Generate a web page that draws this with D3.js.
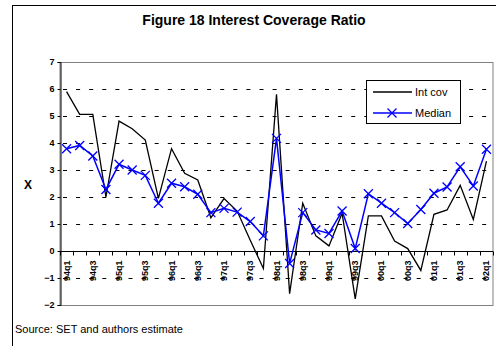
<!DOCTYPE html>
<html>
<head>
<meta charset="utf-8">
<script src="https://cdn.jsdelivr.net/npm/d3@7"></script>
<style>
  body { margin: 0; background: #fff; }
  svg { display: block; font-family: "Liberation Sans", Arial, sans-serif; }
</style>
</head>
<body>
<div id="chart"></div>
<script>
// quarters 94q1 .. 02q1
var quarters = []
for (var yr = 94; yr <= 102; yr++) {
    for (var q = 1; q <= 4; q++) {
        if (yr == 102 && q > 1) break
        quarters.push(String(yr % 100).padStart(2, "0") + "q" + q)
    }
}

var intCov = [5.9, 5.06, 5.06, 2.0, 4.81, 4.53, 4.11, 1.95,
              3.79, 2.88, 2.63, 1.23, 1.94, 1.48, 0.4, -0.65,
              5.8, -1.58, 1.77, 0.56, 0.19, 1.4, -1.77, 1.3,
              1.3, 0.37, 0.09, -0.72, 1.36, 1.52, 2.43, 1.17, 3.33]

var median = [3.79, 3.91, 3.52, 2.28, 3.21, 3.0, 2.8, 1.77,
              2.51, 2.38, 2.1, 1.42, 1.58, 1.44, 1.09, 0.56,
              4.17, -0.46, 1.42, 0.78, 0.65, 1.48, 0.09, 2.12,
              1.77, 1.42, 1.02, 1.54, 2.14, 2.37, 3.12, 2.41, 3.77]

var yTicks = [-2, -1, 0, 1, 2, 3, 4, 5, 6, 7]
var gridVals = [-1, 1, 2, 3, 4, 5, 6]

var width = 496, height = 346
var plotL = 60, plotR = 493, plotT = 62, plotB = 305

var svg = d3.select("#chart").append("svg")
    .attr("width", width)
    .attr("height", height)

// outer frame
svg.append("rect")
    .attr("x", 12.5).attr("y", 5.5)
    .attr("width", 500).attr("height", 400)
    .attr("fill", "none").attr("stroke", "black")

svg.append("text")
    .attr("x", 254).attr("y", 25)
    .attr("text-anchor", "middle")
    .attr("font-size", 14).attr("font-weight", "bold")
    .text("Figure 18 Interest Coverage Ratio")

var x = d3.scaleBand().domain(quarters).range([plotL, plotR])
var y = d3.scaleLinear().domain([-2, 7]).range([plotB, plotT])

// plot border (grey)
svg.append("rect")
    .attr("x", plotL).attr("y", plotT + 0.5)
    .attr("width", plotR - plotL).attr("height", plotB - plotT)
    .attr("fill", "none").attr("stroke", "#808080")

// dashed gridlines
svg.selectAll(".grid").data(gridVals).enter()
    .append("line")
    .attr("x1", plotL + 3).attr("x2", plotR)
    .attr("y1", function(d) { return Math.round(y(d)) + 0.5 })
    .attr("y2", function(d) { return Math.round(y(d)) + 0.5 })
    .attr("stroke", "black")
    .attr("stroke-dasharray", "4,9.1")

// y axis
var yAxis = d3.axisLeft(y).tickValues(yTicks).tickSize(3).tickPadding(3)
var gy = svg.append("g").attr("transform", "translate(" + (plotL + 0.5) + ",0)").call(yAxis)
gy.select(".domain").attr("stroke", "black")
gy.selectAll("text").attr("font-size", 9).attr("font-weight", "bold")
    .attr("font-family", "Liberation Sans, Arial, sans-serif")

svg.append("text")
    .attr("x", 28).attr("y", 189)
    .attr("text-anchor", "middle")
    .attr("font-size", 12).attr("font-weight", "bold")
    .text("X")

// x axis at zero
var y0 = Math.round(y(0)) + 0.5
svg.append("line")
    .attr("x1", plotL).attr("x2", plotR)
    .attr("y1", y0).attr("y2", y0)
    .attr("stroke", "black")

var boundaries = quarters.map(function(d) { return x(d) }).concat([plotR])
svg.selectAll(".xtick").data(boundaries).enter()
    .append("line")
    .attr("x1", function(d) { return Math.round(d) + 0.5 })
    .attr("x2", function(d) { return Math.round(d) + 0.5 })
    .attr("y1", y0).attr("y2", y0 + 4)
    .attr("stroke", "black")

svg.selectAll(".xlab").data(quarters.filter(function(d, i) { return i % 2 == 0 })).enter()
    .append("text")
    .attr("transform", function(d) {
        return "translate(" + (x(d) + x.bandwidth() / 2 + 3) + "," + (y0 + 9) + ") rotate(-90)"
    })
    .attr("text-anchor", "end")
    .attr("font-size", 9).attr("font-weight", "bold")
    .text(function(d) { return d })

var line = d3.line()
    .x(function(d, i) { return x(quarters[i]) + x.bandwidth() / 2 })
    .y(function(d) { return y(d) })

svg.append("path").datum(intCov)
    .attr("d", line)
    .attr("fill", "none").attr("stroke", "black").attr("stroke-width", 1.3)

svg.append("path").datum(median)
    .attr("d", line)
    .attr("fill", "none").attr("stroke", "#0000ff").attr("stroke-width", 1.5)

var s = 4.5
function xMark(sel) {
    sel.attr("d", "M" + (-s) + "," + (-s) + "L" + s + "," + s + "M" + (-s) + "," + s + "L" + s + "," + (-s))
        .attr("stroke", "#0000ff").attr("stroke-width", 1.3).attr("fill", "none")
}

svg.selectAll(".mark").data(median).enter()
    .append("path")
    .attr("transform", function(d, i) {
        return "translate(" + (x(quarters[i]) + x.bandwidth() / 2) + "," + y(d) + ")"
    })
    .call(xMark)

// legend
var lg = svg.append("g")
lg.append("rect")
    .attr("x", 366.5).attr("y", 80.5).attr("width", 94).attr("height", 43)
    .attr("fill", "white").attr("stroke", "black")
lg.append("line")
    .attr("x1", 373).attr("x2", 412).attr("y1", 92).attr("y2", 92)
    .attr("stroke", "black").attr("stroke-width", 1.3)
lg.append("text").attr("x", 415).attr("y", 96).attr("font-size", 11).text("Int cov")
lg.append("line")
    .attr("x1", 373).attr("x2", 412).attr("y1", 113).attr("y2", 113)
    .attr("stroke", "#0000ff").attr("stroke-width", 1.5)
lg.append("path").attr("transform", "translate(392,113)").call(xMark)
lg.append("text").attr("x", 415).attr("y", 117).attr("font-size", 11).text("Median")

svg.append("text")
    .attr("x", 15).attr("y", 333)
    .attr("font-size", 11)
    .text("Source: SET and authors estimate")
</script>
</body>
</html>
